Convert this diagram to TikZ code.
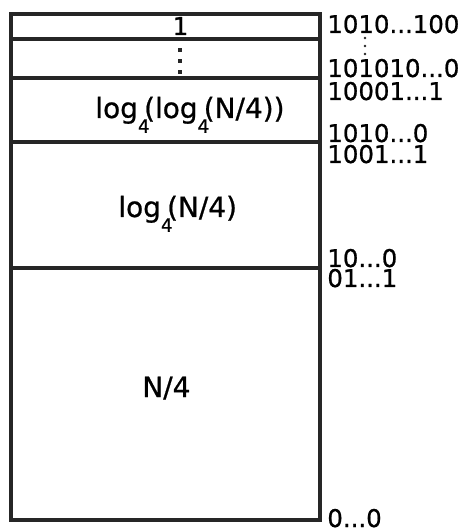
\documentclass[tikz,border=0pt]{standalone}
\usepackage{fontspec}
\setmainfont{DejaVu Sans}[FakeBold=0.8]
\newcommand{\sublog}{log\raisebox{-0.53em}{\fontsize{10.5}{10.5}\selectfont 4}\kern-0.2em}

\begin{document}
\begin{tikzpicture}[x=0.2mm,y=-0.2mm,
	frame/.style={line width=1.8pt,black!85},
	addr/.style={anchor=base west,inner sep=0pt,font=\fontsize{13.9}{14}\selectfont},
	part/.style={anchor=base west,inner sep=0pt,font=\fontsize{15.9}{17}\selectfont}]
				\useasboundingbox (0,0) rectangle (460,531);
				\draw[frame] (11,14) rectangle (320,520);
				\foreach \y in {39,78,142,268}
					\draw[frame] (11,\y) -- (320,\y);
				\node[part,anchor=base,font=\fontsize{14}{14}\selectfont] (one) at (180.5,35) {1};
				\foreach \y in {50,61,72}
					\fill[black!85] (177.5,\y-2) rectangle (181.5,\y+2);
				\node[part] (loglog) at (95,118) {\sublog(\sublog(N/4))};
				\node[part] (logn) at (118,217) {\sublog(N/4)};
				\node[part] (quarter) at (142,397) {N/4};
				\node[addr] (a1) at (327,33) {1010...100};
				\foreach \y in {38,46,54}
					\fill[black!85] (365,\y) circle (1.4);
				\node[addr] (a2) at (327,77) {101010...0};
				\node[addr] (a3) at (327,100) {10001...1};
				\node[addr] (a4) at (327,142) {1010...0};
				\node[addr] (a5) at (327,163) {1001...1};
				\node[addr] (a6) at (327,267) {10...0};
				\node[addr] (a7) at (327,287) {01...1};
				\node[addr] (a8) at (327,527) {0...0};
				\end{tikzpicture}
\end{document}
